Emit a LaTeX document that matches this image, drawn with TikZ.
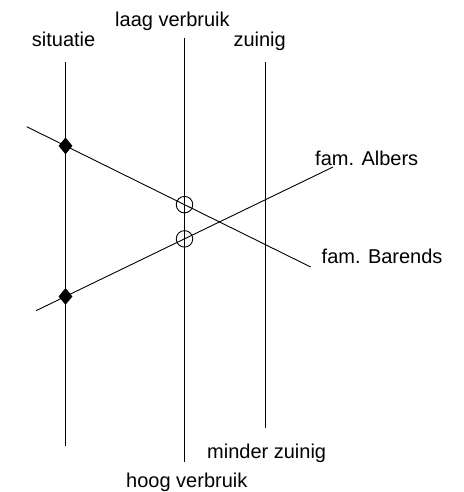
\documentclass[tikz,border=0pt]{standalone}
\usepackage{fontspec}
\setmainfont{Liberation Sans}
\usetikzlibrary{shapes.geometric}

\begin{document}
\begin{tikzpicture}[x=1pt, y=-1pt, every node/.style={inner sep=0pt},
  lbl/.style={anchor=base west, font=\fontsize{20}{24}\selectfont},
  ruit/.style={diamond, fill=black, minimum width=14pt, minimum height=17pt},
  rondje/.style={circle, draw, line width=0.9pt, minimum size=16.5pt},
  lijn/.style={line width=0.9pt}]
  \useasboundingbox (0,0) rectangle (463,492);
  % axes
  \coordinate (sit1) at (65.5,62);   \coordinate (sit2) at (65.5,446);
  \coordinate (verb1) at (184.5,38); \coordinate (verb2) at (184.5,462);
  \coordinate (zuin1) at (265,62);   \coordinate (zuin2) at (265,428);
  % families
  \coordinate (bar1) at (26.7,126.7); \coordinate (bar2) at (310.7,267);
  \coordinate (alb1) at (36,310.7);   \coordinate (alb2) at (333,167);
  \draw[lijn] (sit1) -- (sit2);
  \draw[lijn] (verb1) -- (verb2);
  \draw[lijn] (zuin1) -- (zuin2);
  \draw[lijn] (bar1) -- (bar2);
  \draw[lijn] (alb1) -- (alb2);
  \node[ruit] (dBar) at (intersection of bar1--bar2 and sit1--sit2) {};
  \node[ruit] (dAlb) at (intersection of alb1--alb2 and sit1--sit2) {};
  \node[rondje] (cBar) at (intersection of bar1--bar2 and verb1--verb2) {};
  \node[rondje] (cAlb) at (intersection of alb1--alb2 and verb1--verb2) {};
  % labels
  \node[lbl] (tSit) at (31.7,46.5) {situatie};
  \node[lbl] (tLaag) at (115,26.3) {laag verbruik};
  \node[lbl] (tZuin) at (233.3,46.5) {zuinig};
  \node[lbl] (tAlb) at (315,165.5) {fam. Albers};
  \node[lbl] (tBar) at (321.5,263.5) {fam. Barends};
  \node[lbl] (tMind) at (207,458.5) {minder zuinig};
  \node[lbl] (tHoog) at (126,487.6) {hoog verbruik};
\end{tikzpicture}
\end{document}
